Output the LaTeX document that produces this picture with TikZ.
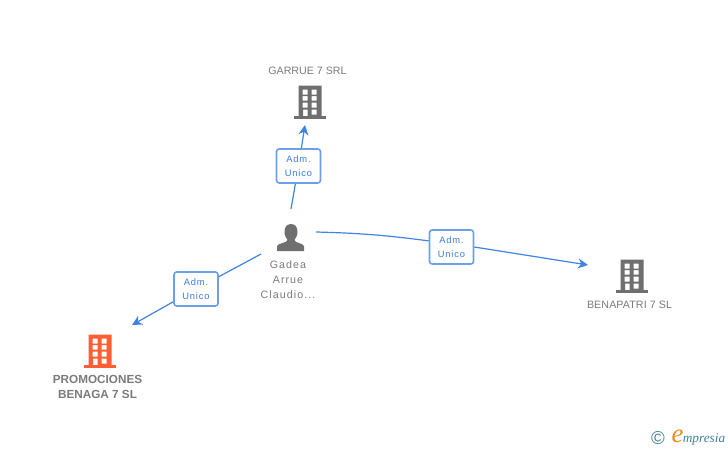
\documentclass[tikz,border=0pt]{standalone}
\usepackage{fontspec}
\setmainfont{Liberation Sans}
\newfontfamily\logofont{Liberation Serif}
\usetikzlibrary{arrows.meta}
\definecolor{linkblue}{HTML}{3F83E4}
\definecolor{boxblue}{HTML}{6C9FE9}
\definecolor{labelblue}{HTML}{3A7BDC}
\definecolor{icongrey}{HTML}{6F6F6F}
\definecolor{textgrey}{HTML}{7A7A7A}
\definecolor{iconorange}{HTML}{FF5F33}
\definecolor{logoteal}{HTML}{3F8296}
\definecolor{logoorange}{HTML}{F08A1E}
\tikzset{
    link/.style={linkblue, line width=0.9pt},
    arrowlink/.style={link, -{Stealth[length=7.5pt, width=7.5pt]}},
    rolebox/.style={draw=boxblue, line width=1.2pt, fill=white, rounded corners=2pt, minimum width=33pt, minimum height=25.5pt, inner sep=0pt, align=center, text=labelblue, font=\fontsize{7}{11}\selectfont\addfontfeature{LetterSpace=9}},
    company/.style={text=textgrey, align=center, font=\fontsize{8}{11.2}\selectfont},
    pics/building/.style={code={
        \fill[#1, even odd rule] (-11.5,-33) rectangle (11.5,-2) (-7.5,-29) rectangle (-2.5,-24) (1.5,-29) rectangle (6.5,-24) (-7.5,-22.5) rectangle (-2.5,-18) (1.5,-22.5) rectangle (6.5,-18) (-7.5,-16) rectangle (-2.5,-11) (1.5,-16) rectangle (6.5,-11) (-7,-9) rectangle (-2.5,-2) (1.5,-9) rectangle (6.5,-4);
        \fill[#1] (-16,-2.5) rectangle (16,0);
    }},
}
\begin{document}
\begin{tikzpicture}[x=0.75pt, y=-0.75pt]
    \useasboundingbox (0, 0) rectangle (728, 450);

    % Buildings
    \pic (garrueicon) at (310, 118.5) {building=icongrey};
    \pic (benapatriicon) at (632, 292.5) {building=icongrey};
    \pic (promocionesicon) at (100, 367.5) {building=iconorange};

    % Person
    \fill[icongrey] (291, 224) .. controls (286, 224) and (284.5, 228) .. (284.5, 232) .. controls (284.5, 236) and (286.5, 238) .. (287.5, 240) .. controls (287.5, 243) and (278, 243) .. (277, 246) -- (277, 251) -- (304, 251) -- (304, 246) .. controls (303, 243) and (294.5, 243) .. (294.5, 240) .. controls (295.5, 238) and (297.5, 236) .. (297.5, 232) .. controls (297.5, 228) and (296, 224) .. (291, 224) -- cycle;

    % Names
    \node[company] (garrue) at (307.5, 71) {GARRUE 7 SRL};
    \node[company, font=\fontsize{8}{11.2}\selectfont\addfontfeature{LetterSpace=1}] (benapatri) at (629.5, 305) {BENAPATRI 7 SL};
    \node[company, font=\fontsize{8.8}{11.2}\selectfont\bfseries] (promociones) at (97.5, 387) {PROMOCIONES\\BENAGA 7 SL};
    \node[company, font=\fontsize{8}{11.2}\selectfont\addfontfeature{LetterSpace=10}] (gadea) at (288, 280) {Gadea\\Arrue\\Claudio...};

    % Free ends
    \coordinate (topstart) at (291, 209);
    \coordinate (toptip) at (305, 125);
    \coordinate (leftstart) at (261, 254);
    \coordinate (lefttip) at (132, 325);
    \coordinate (rightstart) at (316, 232);
    \coordinate (righttip) at (588, 265);

    % Role boxes
    \node[rolebox] (roletop) at (298.5, 166) {Adm.\\Unico};
    \node[rolebox] (roleleft) at (196, 289) {Adm.\\Unico};
    \node[rolebox] (roleright) at (451.5, 247) {Adm.\\Unico};

    % Connectors
    \draw[link] (topstart) -- (roletop);
    \draw[arrowlink] (roletop) -- (toptip);
    \draw[link] (leftstart) -- (roleleft);
    \draw[arrowlink] (roleleft) -- (lefttip);
    \draw[link] (rightstart) to[bend left=3] (roleright.165);
    \draw[arrowlink] (roleright.east) -- (righttip);

    % Logo
    \node[text=logoteal, inner sep=0pt, font=\fontsize{14}{14}\selectfont] (copyright) at (658, 438.5) {\textcopyright};
    \node[text=logoorange, inner sep=0pt, font=\logofont\itshape\fontsize{20}{20}\selectfont] (logoe) at (677.5, 436) {e};
    \node[text=logoteal, inner sep=0pt, anchor=west, font=\logofont\itshape\fontsize{10}{10}\selectfont] (logoname) at (682.5, 439) {mpresia};
\end{tikzpicture}
\end{document}
